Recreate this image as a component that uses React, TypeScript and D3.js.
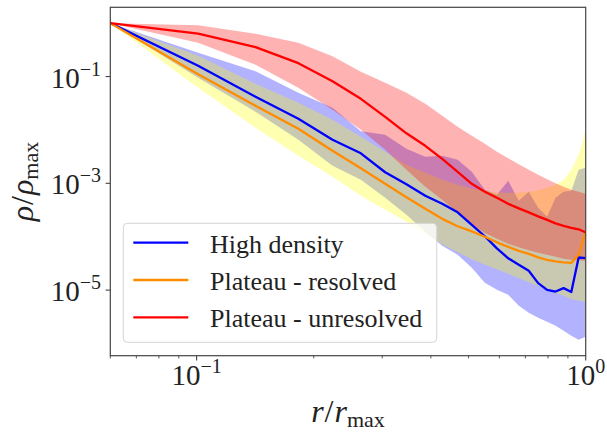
import React from "react";
import * as d3 from "d3";

// Radial bins (r / r_max)
const radius = [
  0.06, 0.1009, 0.1417, 0.1826, 0.2235, 0.2643, 0.3052, 0.3461, 0.387, 0.4278,
  0.4687, 0.5096, 0.5504, 0.5913, 0.6322, 0.673, 0.7139, 0.7548, 0.7957,
  0.8365, 0.8774, 0.9183, 0.9591, 1.0,
];

// High density: median profile and spread
const highDensity = [
  1.0, 0.1586, 0.0417, 0.01614, 0.00653, 0.00365, 0.00161, 9.58e-4, 5.83e-4,
  4.13e-4, 2.86e-4, 1.67e-4, 1.02e-4, 6.06e-5, 3.94e-5, 2.98e-5, 2.3e-5,
  1.35e-5, 1.01e-5, 9.4e-6, 1.09e-5, 9.2e-6, 4.08e-5, 3.97e-5,
];
const highDensityLow = [
  1.0, 0.0945, 0.02183, 0.00653, 0.002127, 0.001163, 5.35e-4, 2.57e-4,
  1.235e-4, 6.76e-5, 4.58e-5, 2.62e-5, 1.37e-5, 1.013e-5, 8.17e-6, 5.08e-6,
  3.76e-6, 3.03e-6, 2.55e-6, 2.15e-6, 1.73e-6, 1.39e-6, 1.17e-6, 1.335e-6,
];
const highDensityHigh = [
  1.0, 0.2779, 0.1252, 0.0495, 0.02594, 0.00941, 0.0081, 0.00443, 0.003135,
  0.003273, 0.002755, 0.001642, 7.55e-4, 6.09e-4, 0.001113, 4.7e-4, 6.93e-4,
  3.48e-4, 2.36e-4, 5.35e-4, 6.93e-4, 7.24e-4, 0.00179, 0.00195,
];

// Plateau - resolved
const resolved = [
  1.0, 0.11, 0.02827, 0.01048, 0.00406, 0.00191, 9.78e-4, 5.47e-4, 3.33e-4,
  2.16e-4, 1.57e-4, 1.26e-4, 9.96e-5, 7.85e-5, 6.47e-5, 5.44e-5, 4.78e-5,
  4.11e-5, 3.69e-5, 3.46e-5, 3.32e-5, 3.24e-5, 4.58e-5, 1.235e-4,
];
const resolvedLow = [
  1.0, 0.0614, 0.01095, 0.003273, 0.001323, 5.83e-4, 3.19e-4, 1.9e-4,
  1.133e-4, 7.21e-5, 5.1e-5, 3.77e-5, 2.98e-5, 2.45e-5, 2.02e-5, 1.66e-5,
  1.4e-5, 1.2e-5, 1.035e-5, 8.9e-6, 7.82e-6, 6.72e-6, 6.3e-6, 6.04e-6,
];
const resolvedHigh = [
  1.0, 0.2441, 0.073, 0.03218, 0.01546, 0.00743, 0.00389, 0.00222, 0.001572,
  0.001163, 9.37e-4, 7.89e-4, 7.24e-4, 6.64e-4, 6.64e-4, 6.64e-4, 6.93e-4,
  7.39e-4, 8.23e-4, 9.37e-4, 0.001163, 0.00179, 0.003417, 0.01004,
];

// Plateau - unresolved
const unresolved = [
  1.0, 0.636, 0.3553, 0.1781, 0.0813, 0.03824, 0.01759, 0.00864, 0.00504,
  0.002876, 0.001642, 9.78e-4, 6.93e-4, 5.35e-4, 4.13e-4, 3.4e-4, 2.86e-4,
  2.41e-4, 2.07e-4, 1.78e-4, 1.6e-4, 1.47e-4, 1.376e-4, 1.2e-4,
];
const unresolvedLow = [
  1.0, 0.4276, 0.1656, 0.0614, 0.02379, 0.01004, 0.00424, 0.00179, 8.6e-4,
  4.91e-4, 2.8e-4, 1.67e-4, 1.18e-4, 9.13e-5, 7.36e-5, 6.33e-5, 5.56e-5,
  4.99e-5, 4.58e-5, 4.2e-5, 3.86e-5, 3.69e-5, 3.61e-5, 3.54e-5,
];
const unresolvedHigh = [
  1.0, 0.909, 0.636, 0.4276, 0.2389, 0.1225, 0.0762, 0.0495, 0.0308, 0.01837,
  0.01143, 0.00775, 0.00549, 0.00389, 0.00294, 0.00227, 0.00179, 0.00144,
  0.00119, 0.001, 8.6e-4, 7.55e-4, 6.93e-4, 6.36e-4,
];

const seriesNames = ["High density", "Plateau - resolved", "Plateau - unresolved"];
const lineColors = ["#0000ff", "#ff8c00", "#ff0000"];
const bandColors = ["#0000ff", "#ffff00", "#ff0000"];

const xMajorTicks = [0.1, 1];
const xMajorExp = ["\u22121", "0"];
const xMinorTicks = [0.06, 0.07, 0.08, 0.09, 0.2, 0.3, 0.4, 0.5, 0.6, 0.7, 0.8, 0.9];
const yMajorTicks = [1e-1, 1e-3, 1e-5];
const yMajorExp = ["\u22121", "\u22123", "\u22125"];

const W = 607;
const H = 433;
const left = 110.3;
const right = 585.7;
const top = 7.3;
const bottom = 355.7;

const FONT = "'Liberation Serif', 'DejaVu Serif', serif";

export default function App() {
  const series = [
    { mid: highDensity, lo: highDensityLow, hi: highDensityHigh },
    { mid: resolved, lo: resolvedLow, hi: resolvedHigh },
    { mid: unresolved, lo: unresolvedLow, hi: unresolvedHigh },
  ];

  const allY = series.flatMap((s) => [...s.mid, ...s.lo, ...s.hi]);
  const lMin = Math.log10(d3.min(allY) as number);
  const lMax = Math.log10(d3.max(allY) as number);
  const pad = 0.05 * (lMax - lMin);

  const x = d3.scaleLog().domain([0.06, 1.0]).range([left, right]);
  const y = d3
    .scaleLog()
    .domain([Math.pow(10, lMin - pad), Math.pow(10, lMax + pad)])
    .range([bottom, top]);

  const line = d3
    .line<number>()
    .x((_, i) => x(radius[i]))
    .y((d) => y(d));

  const band = (lo: number[], hi: number[]) =>
    d3
      .area<number>()
      .x((_, i) => x(radius[i]))
      .y0((_, i) => y(lo[i]))
      .y1((_, i) => y(hi[i]))(radius);

  const legendX = 123.3;
  const legendY = 223.3;
  const legendW = 313.4;
  const legendH = 119;
  const rowY = [242.7, 280, 317.3];

  return (
    <svg width={W} height={H} style={{ display: "block", position: "absolute", left: 0, top: 0 }}>
      <rect x={0} y={0} width={W} height={H} fill="#ffffff" />
      <defs>
        <clipPath id="plot-clip">
          <rect x={left} y={top} width={right - left} height={bottom - top} />
        </clipPath>
      </defs>

      <g clipPath="url(#plot-clip)">
        {series.map((s, i) => (
          <path key={"band" + i} d={band(s.lo, s.hi) || ""} fill={bandColors[i]} fillOpacity={0.3} stroke="none" />
        ))}
        {series.map((s, i) => (
          <path
            key={"line" + i}
            d={line(s.mid) || ""}
            fill="none"
            stroke={lineColors[i]}
            strokeWidth={2.3}
            strokeLinejoin="round"
          />
        ))}
      </g>

      {/* frame */}
      <rect
        x={left}
        y={top}
        width={right - left}
        height={bottom - top}
        fill="none"
        stroke="#444"
        strokeWidth={1.2}
      />

      {/* x ticks */}
      {xMinorTicks.map((t) => (
        <line key={"xm" + t} x1={x(t)} x2={x(t)} y1={bottom} y2={bottom + 2.7} stroke="#444" strokeWidth={0.9} />
      ))}
      {xMajorTicks.map((t, i) => (
        <g key={"xM" + t}>
          <line x1={x(t)} x2={x(t)} y1={bottom} y2={bottom + 4.7} stroke="#444" strokeWidth={1.1} />
          <text x={x(t)} y={385} textAnchor="middle" fontFamily={FONT} fontSize={29} fill="#222">
            10
            <tspan fontSize={20} dy={-12}>
              {xMajorExp[i]}
            </tspan>
          </text>
        </g>
      ))}

      {/* y ticks */}
      {yMajorTicks.map((t, i) => (
        <g key={"yM" + t}>
          <line x1={left - 4.7} x2={left} y1={y(t)} y2={y(t)} stroke="#444" strokeWidth={1.1} />
          <text x={101} y={y(t) + 11} textAnchor="end" fontFamily={FONT} fontSize={29} fill="#222">
            10
            <tspan fontSize={20} dy={-12}>
              {yMajorExp[i]}
            </tspan>
          </text>
        </g>
      ))}

      {/* axis titles */}
      <text x={(left + right) / 2} y={422} textAnchor="middle" fontFamily={FONT} fontSize={32} fill="#222">
        <tspan fontStyle="italic">r</tspan>
        <tspan dx={1}>/</tspan>
        <tspan fontStyle="italic" dx={1}>r</tspan>
        <tspan fontSize={22} dy={5}>max</tspan>
      </text>
      <text
        transform={`translate(33, ${(top + bottom) / 2}) rotate(-90)`}
        textAnchor="middle"
        fontFamily={FONT}
        fontSize={32}
        fill="#222"
      >
        <tspan fontStyle="italic">ρ</tspan>
        <tspan dx={1}>/</tspan>
        <tspan fontStyle="italic" dx={1}>ρ</tspan>
        <tspan fontSize={22} dy={5}>max</tspan>
      </text>

      {/* legend */}
      <rect
        x={legendX}
        y={legendY}
        width={legendW}
        height={legendH}
        rx={4}
        ry={4}
        fill="#ffffff"
        fillOpacity={0.8}
        stroke="#d4d4d4"
        strokeWidth={1}
      />
      {seriesNames.map((name, i) => (
        <g key={"lg" + i}>
          <line x1={133.3} x2={188.3} y1={rowY[i]} y2={rowY[i]} stroke={lineColors[i]} strokeWidth={2.3} />
          <text x={210} y={rowY[i] + 10} fontFamily={FONT} fontSize={26} fill="#222">
            {name}
          </text>
        </g>
      ))}
    </svg>
  );
}
